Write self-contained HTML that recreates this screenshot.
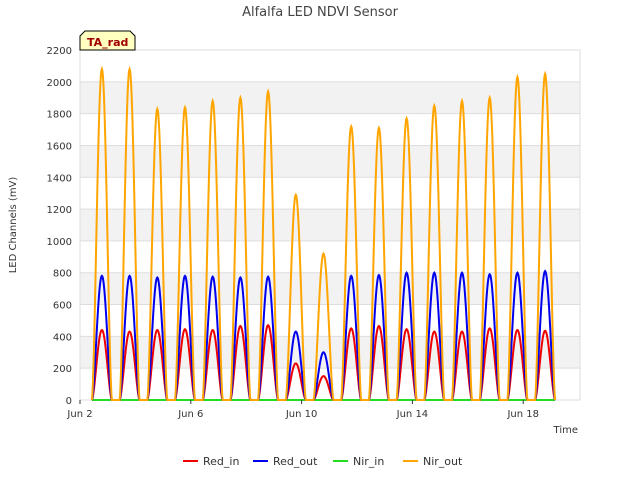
<!DOCTYPE html>
<html><head><meta charset="utf-8"><style>
body{margin:0;background:#fff;font-family:"Liberation Sans","DejaVu Sans",sans-serif}
svg text{font-family:"DejaVu Sans","Liberation Sans",sans-serif}
</style></head><body>
<svg id="c" width="640" height="480" xmlns="http://www.w3.org/2000/svg">
<rect width="640" height="480" fill="#fff"/>
<text x="320" y="16" text-anchor="middle" font-size="13" fill="#444">Alfalfa LED NDVI Sensor</text>
<g id="grid"></g><g id="series"></g><g id="axes"></g>
<g>
<path d="M80,50 L80,36 L85,31 L130,31 L135,36 L135,50 Z" fill="#ffffc0" stroke="#000"/>
<text x="87" y="46" font-size="11" font-weight="bold" fill="#a00000">TA_rad</text></g>
<text x="16" y="225" font-size="10" fill="#333" text-anchor="middle" transform="rotate(-90 16 225)">LED Channels (mV)</text>
<text x="578" y="433" font-size="10" fill="#333" text-anchor="end">Time</text>
<g id="legend"></g>
</svg>
<script>
const days=[2,3,4,5,6,7,8,9,10,11,12,13,14,15,16,17,18];
const redIn=[440,430,440,445,440,465,470,230,150,450,465,445,430,430,450,440,435];
const redOut=[780,780,770,780,775,770,775,430,300,780,785,800,800,800,790,800,810];
const nirIn=[0,0,0,0,0,0,0,0,0,0,0,0,0,0,0,0,0];
const nirOut=[2080,2080,1830,1840,1880,1900,1940,1290,920,1720,1710,1770,1850,1880,1900,2030,2050];
const yTicks=[0,200,400,600,800,1000,1200,1400,1600,1800,2000,2200];
const xTicks=[2,6,10,14,18];
const xLabels=["Jun 2","Jun 6","Jun 10","Jun 14","Jun 18"];
const X0=80,X1=580,Y0=400,Y1=50,D0=2,D1=20.05;
const xs=d=>X0+(d-D0)/(D1-D0)*(X1-X0);
const ys=v=>Y0-v/2200*(Y0-Y1);
const NS="http://www.w3.org/2000/svg";
function mk(t,a,p){const e=document.createElementNS(NS,t);for(const k in a)e.setAttribute(k,a[k]);p.appendChild(e);return e;}
const grid=document.getElementById('grid'),axes=document.getElementById('axes'),ser=document.getElementById('series');
for(let i=0;i<yTicks.length-1;i++){if(i%2==1){const r=mk('rect',{x:X0,y:ys(yTicks[i+1]),width:X1-X0,height:ys(yTicks[i])-ys(yTicks[i+1]),fill:'#f2f2f2'},grid);}}
yTicks.forEach(v=>{const l=mk('line',{x1:X0,x2:X1,y1:ys(v),y2:ys(v),stroke:'#ddd'},grid);

const t=mk('text',{x:X0-8,y:ys(v)+4,'text-anchor':'end','font-size':'10',fill:'#333'},axes);t.textContent=v;
});
mk('rect',{x:X0,y:Y1,width:X1-X0,height:Y0-Y1,fill:'none',stroke:'#ddd'},grid);
xTicks.forEach((d,i)=>{mk('line',{x1:xs(d),x2:xs(d),y1:Y0,y2:Y0+4,stroke:'#333'},axes);
const t=mk('text',{x:xs(d),y:Y0+17,'text-anchor':'middle','font-size':'10',fill:'#333'},axes);t.textContent=xLabels[i];
});
function draw(vals,col,name){let p='';
days.forEach((d,i)=>{for(let k=0;k<=40;k++){const f=k/40;const s=Math.pow(Math.sin(Math.PI*f),1.6);
const x=xs(d+0.43+0.72*f);p+=(p?'L':'M')+x.toFixed(1)+','+ys(vals[i]*s).toFixed(1);}});
const e=mk('path',{d:p,fill:'none',stroke:col,'stroke-width':2},ser);
}
draw(nirIn,'#22dd22','series-nir-in');draw(redIn,'#ee0000','series-red-in');
draw(redOut,'#0000ee','series-red-out');draw(nirOut,'#ffa500','series-nir-out');
const lg=document.getElementById('legend');
[['Red_in','#ee0000',183],['Red_out','#0000ee',253],['Nir_in','#22dd22',333],['Nir_out','#ffa500',403]].forEach(([n,c,x])=>{
const g=mk('g',{},lg);
mk('line',{x1:x,x2:x+15,y1:461,y2:461,stroke:c,'stroke-width':2},g);
const t=mk('text',{x:x+20,y:465,'font-size':'11',fill:'#333'},g);t.textContent=n;});
</script>
</body></html>
